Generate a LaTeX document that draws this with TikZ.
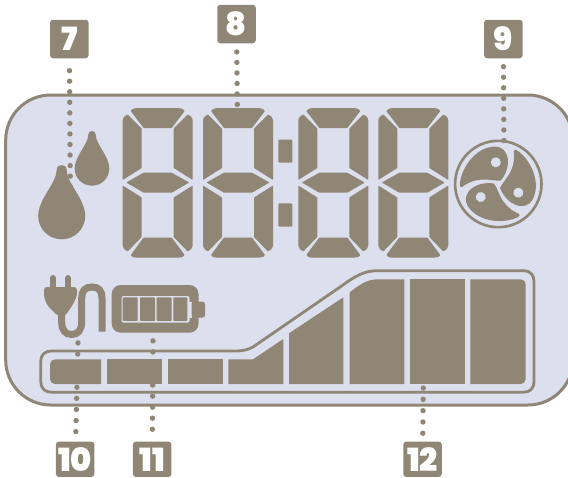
\documentclass[tikz,border=0pt]{standalone}
\usepackage{fontspec}
\newfontfamily\badgefont{Poppins Black}
\usepackage{tikz}
\definecolor{dark}{HTML}{8F8675}
\definecolor{panel}{HTML}{DCDFED}
\tikzset{
    badge/.style = {fill=dark, rounded corners=3pt, minimum width=38.5pt, minimum height=38.5pt, inner sep=0pt, outer sep=0pt, text=white, text depth=0pt, font=\fontsize{32}{32}\badgefont},
    lowbadge/.style = {badge, minimum height=35.3pt},
    dots/.style = {dark, line width=5.4pt, line cap=round, dash pattern=on 0pt off #1pt},
    seg/.style = {fill=dark, rounded corners=.7pt},
    lcdpart/.style = {fill=dark},
    drop/.pic = {
        \fill[dark] (-5,5) .. controls (-5,1.5) and (-2.5,0) .. (0,0) .. controls (2.5,0) and (5,1.5) .. (5,5) .. controls (5,18) and (23.5,34) .. (23.5,51) .. controls (23.5,64) and (13,74.3) .. (0,74.3) .. controls (-13,74.3) and (-23.5,64) .. (-23.5,51) .. controls (-23.5,34) and (-5,18) .. (-5,5) -- cycle;
    }
}
\begin{document}
\begin{tikzpicture}[x=1pt, y=-1pt]
    \useasboundingbox (0,0) rectangle (568,477);
    \draw[dark, fill=panel, line width=3pt, rounded corners=45pt] (5.7,95) rectangle (573,405);

    \foreach \dx in {122.7,203,298.3,378.3} {
        \begin{scope}[shift={(\dx,108)}]
            \path[seg] (8,3) -- (10,1) -- (14,0) -- (56,0) -- (60,1) -- (62,3) -- (49,20) -- (21,20) -- cycle;
            \path[seg] (0,72) -- (0,12) -- (1.5,8.5) -- (5,6.5) -- (19,20.5) -- (19,60) -- cycle;
            \path[seg] (70,72) -- (70,12) -- (68.5,8.5) -- (65,6.5) -- (51,20.5) -- (51,60) -- cycle;
            \path[seg] (3.5,74.5) -- (21,64.7) -- (49,64.7) -- (66.5,74.5) -- (49,84.7) -- (21,84.7) -- cycle;
            \path[seg] (0,77.5) -- (19,89.5) -- (19,129) -- (5,143.5) -- (1.5,141) -- (0,138) -- cycle;
            \path[seg] (70,77.5) -- (51,89.5) -- (51,129) -- (65,143.5) -- (68.5,141) -- (70,138) -- cycle;
            \path[seg] (8,147) -- (21,129.5) -- (49,129.5) -- (62,147) -- (60,149) -- (56,149.7) -- (14,149.7) -- (10,149) -- cycle;
        \end{scope}
    }
    \fill[lcdpart, rounded corners=1pt] (278.3,139.5) rectangle (292.3,162.7);
    \fill[lcdpart, rounded corners=1pt] (278.3,203.3) rectangle (292.3,226.7);

    \pic at (61.7,165) {drop};
    \pic[scale=.736] at (92,131) {drop};

    \draw[dark, line width=2.6pt] (498.3,184) circle (43.2pt);
    \foreach \ang in {0,120,240} {
        \begin{scope}[shift={(498.3,184)}, rotate=\ang]
            \fill[dark] (-38.5,1) .. controls (-38,-14) and (-24,-37) .. (-3,-37.5) .. controls (3,-37.5) and (8.5,-33) .. (9.5,-25) .. controls (10.5,-17) and (7,-9) .. (2.5,-3.5) .. controls (-3,-3) and (-8,-4.5) .. (-14,-4.5) .. controls (-22,-4.5) and (-30,-2) .. (-36,3) .. controls (-37.5,3.5) and (-38.5,2.5) .. (-38.5,1) -- cycle;
            \fill[panel] (-2.5,-21.7) circle (5pt);
        \end{scope}
    }

    \fill[dark, rounded corners=3pt] (44,287) -- (77,287) -- (77,296) -- (72,306) -- (65,316) -- (58,316) -- (47,305) -- (44,297) -- cycle;
    \draw[dark, line width=6.4pt, line cap=round] (52.7,278.2) -- (52.7,290);
    \draw[dark, line width=6.4pt, line cap=round] (68,278.2) -- (68,290);
    \draw[dark, line width=7pt] (61.7,305) -- (61.7,322) .. controls (61.7,330) and (65,334.5) .. (71.7,334.5) .. controls (78,334.5) and (81.7,330) .. (81.7,322) -- (81.7,298) .. controls (81.7,291) and (85,287) .. (92,287) .. controls (99,287) and (102,291) .. (102,298) -- (102,331.7);

    \fill[lcdpart, rounded corners=9pt] (111.7,285) rectangle (198.5,332.7);
    \fill[panel, rounded corners=2pt] (121.5,296) rectangle (189.5,322.7);
    \foreach \xa/\xb in {122.7/137.7,140/155,156.7/171.7,173.3/187.3} {
        \fill[lcdpart, rounded corners=.8pt] (\xa,297.3) rectangle (\xb,320.9);
    }
    \fill[panel] (189,301.7) rectangle (191.5,317.5);
    \fill[lcdpart, rounded corners=2.5pt] (191.5,301.7) rectangle (205,317.5);

    \draw[dark, line width=2.8pt] (235,351) -- (51,351) .. controls (45,351) and (40.8,355) .. (40.8,361) -- (40.8,382) .. controls (40.8,388) and (45,392.2) .. (51,392.2) -- (524,392.2) .. controls (530,392.2) and (534,388) .. (534,382) -- (534,281) .. controls (534,275) and (530,270.7) .. (524,270.7) -- (377,270.7) .. controls (365,270.7) and (355,276) .. (343,285) -- (253,347) .. controls (247,350) and (243,351) .. (235,351) -- cycle;

    \fill[lcdpart] (101,359.3) [rounded corners=5pt] -- (50,359.3) -- (50,384) [sharp corners] -- (101,384) -- cycle;
    \fill[lcdpart] (107,359.3) rectangle (162,384);
    \fill[lcdpart] (168,359.3) rectangle (223,384);
    \fill[lcdpart] (228.3,384) -- (228.3,359.3) -- (253,359.3) -- (283.3,339) -- (283.3,384) -- cycle;
    \fill[lcdpart] (289,384) -- (289,333.3) -- (343.3,297.3) -- (343.3,384) -- cycle;
    \fill[lcdpart] (349.7,384) -- (349.7,292.3) .. controls (358,286) and (366,279.3) .. (378,279.3) -- (404.3,279.3) -- (404.3,384) -- cycle;
    \fill[lcdpart] (410,279) rectangle (465,384);
    \fill[lcdpart] (470.3,384) -- (470.3,279.3) [rounded corners=5pt] -- (525.7,279.3) -- (525.7,384) [sharp corners] -- cycle;

    \node[badge] (7) at (69.3,39) {7};
    \node[badge] (8) at (236.5,24) {8};
    \node[badge] (9) at (503.3,39) {9};
    \node[lowbadge] (10) at (75.2,459.3) {10};
    \node[lowbadge] (11) at (152.2,459.3) {11};
    \node[lowbadge] (12) at (422.5,459.3) {12};

    \coordinate (7e) at (70.3,187);
    \coordinate (8e) at (237.3,105);
    \coordinate (9e) at (504,151);
    \coordinate (10e) at (78,342);
    \coordinate (11e) at (153,340);
    \coordinate (12e) at (423.3,387);

    \draw[dots=10.55, shorten <=12.4pt] (7) -- (7e);
    \draw[dots=10.5, shorten <=8.7pt] (8) -- (8e);
    \draw[dots=10.55, shorten <=8.4pt] (9) -- (9e);
    \draw[dots=11.1, shorten <=10pt] (10) -- (10e);
    \draw[dots=11.05, shorten <=12.4pt] (11) -- (11e);
    \draw[dots=11.3, shorten <=8.4pt] (12) -- (12e);
\end{tikzpicture}
\end{document}
